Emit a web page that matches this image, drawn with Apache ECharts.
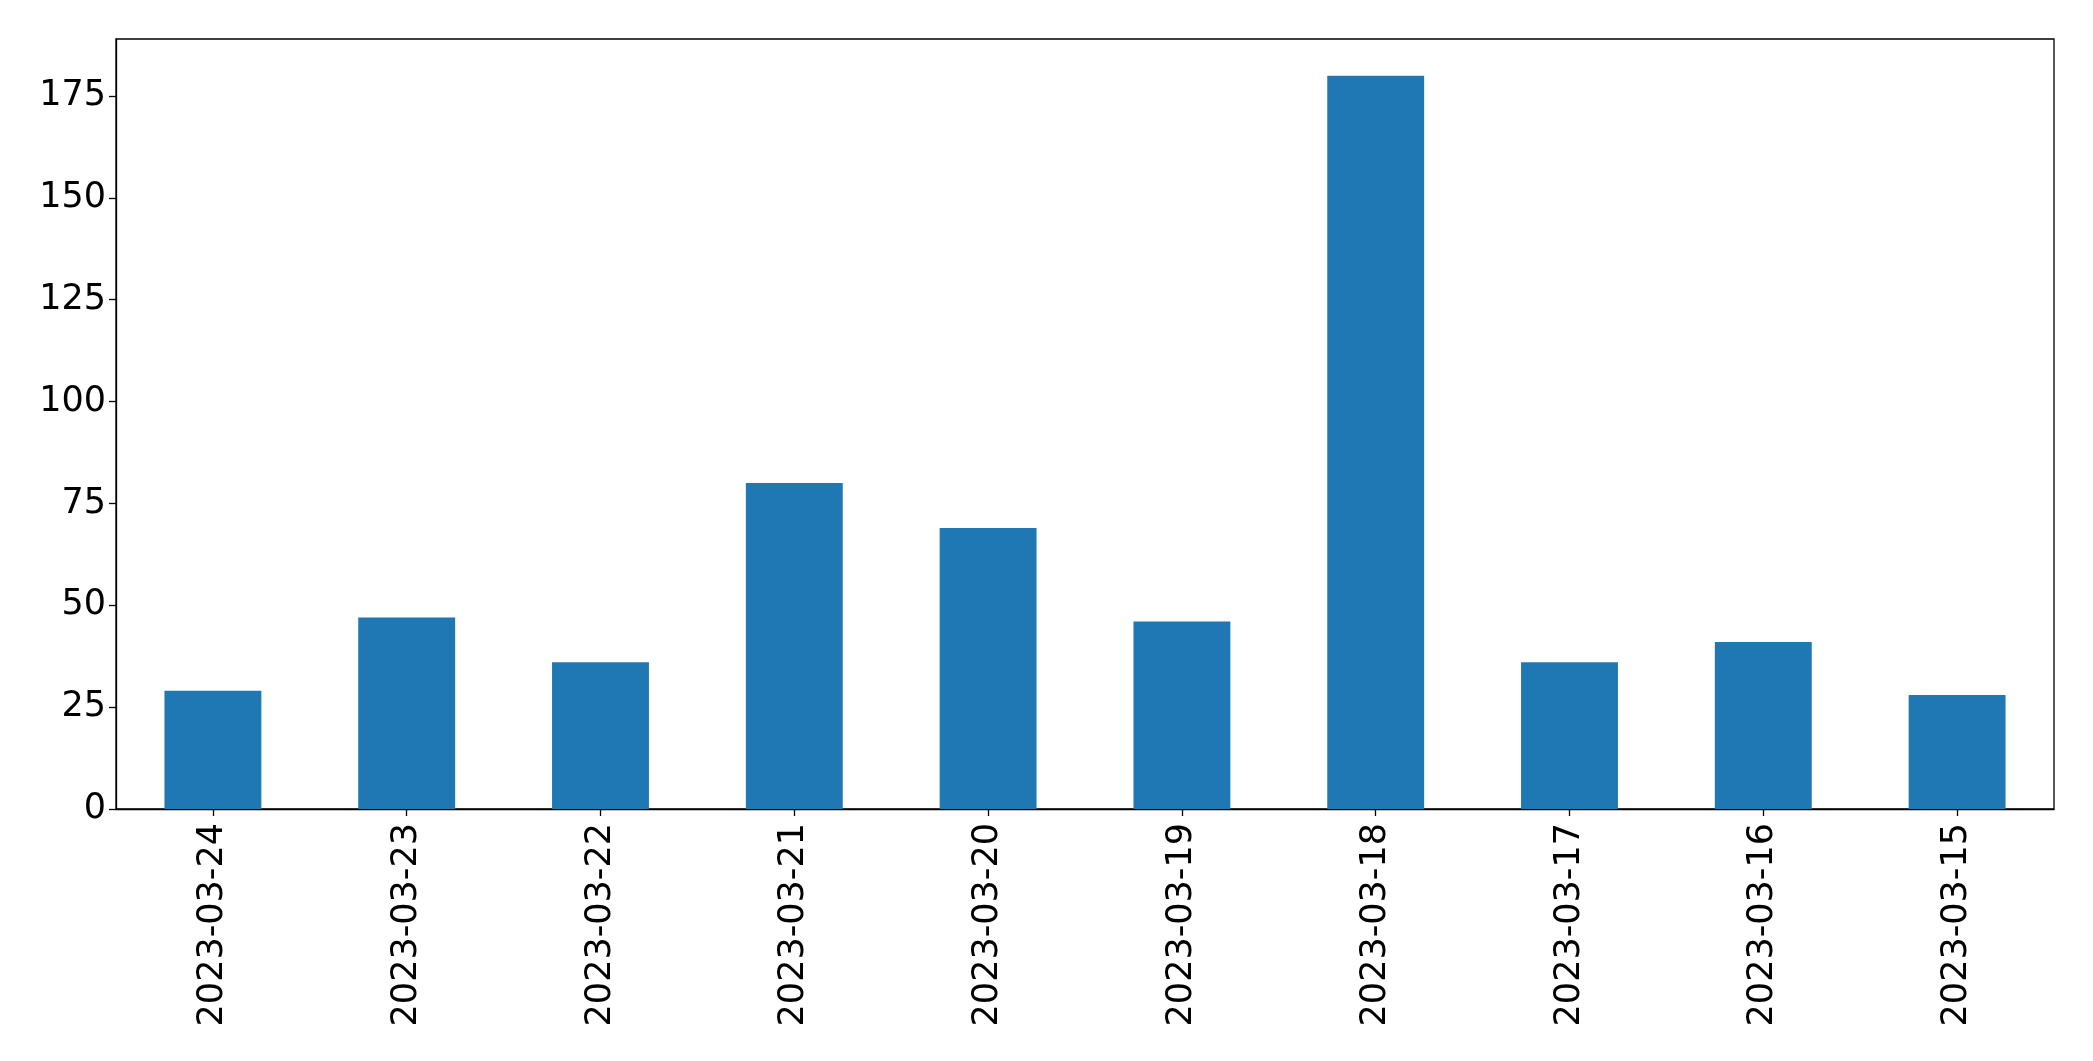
<!DOCTYPE html>
<html>
<head>
<meta charset="utf-8">
<script src="https://cdn.jsdelivr.net/npm/echarts@6/dist/echarts.min.js"></script>
<style>
html,body{margin:0;padding:0;background:#fff;}
#chart{width:2093px;height:1061px;}
</style>
</head>
<body>
<div id="chart"></div>
<script>
const categories = ["2023-03-24","2023-03-23","2023-03-22","2023-03-21","2023-03-20","2023-03-19","2023-03-18","2023-03-17","2023-03-16","2023-03-15"];
const values = [29, 47, 36, 80, 69, 46, 180, 36, 41, 28];
const yTicks = [0, 25, 50, 75, 100, 125, 150, 175];

const chart = echarts.init(document.getElementById('chart'), null, {renderer: 'canvas'});
const font = 'DejaVu Sans';
chart.setOption({
  animation: false,
  backgroundColor: '#ffffff',
  grid: {
    left: 116, right: 39, top: 39, bottom: 252,
    show: true, borderColor: '#000000', borderWidth: 1.3, backgroundColor: 'transparent'
  },
  xAxis: {
    type: 'category',
    data: categories,
    axisLine: {show: true, lineStyle: {color: '#000000', width: 1.3}},
    axisTick: {show: true, alignWithLabel: true, length: 7, lineStyle: {color: '#000000', width: 1.3}},
    axisLabel: {rotate: 90, color: '#000000', fontFamily: font, fontSize: 35, margin: 14, interval: 0},
    splitLine: {show: false}
  },
  yAxis: {
    type: 'value',
    min: 0, max: 189, interval: 25,
    axisLine: {show: true, lineStyle: {color: '#000000', width: 1.3}},
    axisTick: {show: true, length: 7, customValues: yTicks, lineStyle: {color: '#000000', width: 1.3}},
    axisLabel: {
      color: '#000000', fontFamily: font, fontSize: 35, margin: 10,
      customValues: yTicks
    },
    splitLine: {show: false}
  },
  series: [{
    type: 'bar',
    data: values,
    barCategoryGap: '50%',
    itemStyle: {color: '#1f77b4'}
  }]
});
</script>
</body>
</html>
